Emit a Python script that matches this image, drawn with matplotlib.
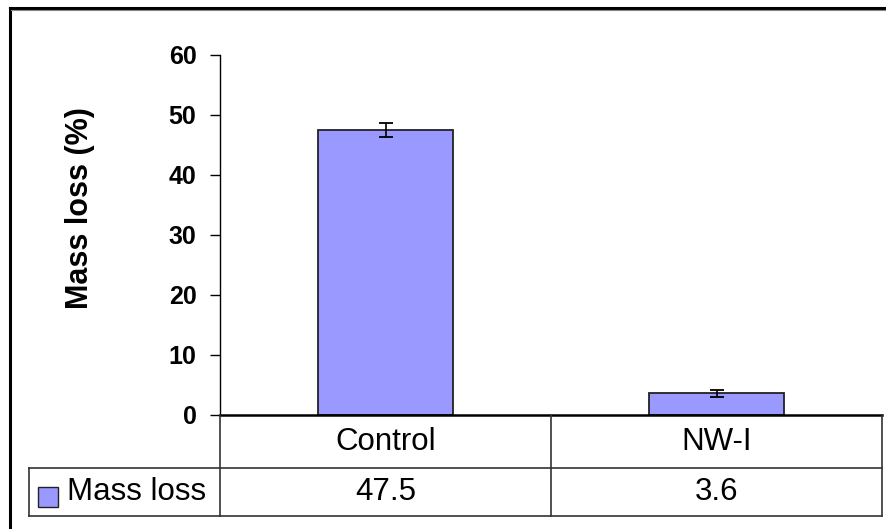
import matplotlib
matplotlib.use("Agg")
import matplotlib.pyplot as plt
from matplotlib.lines import Line2D
from matplotlib.patches import Rectangle

categories = ["Control", "NW-I"]
values = [47.5, 3.6]
errors = [1.2, 0.6]
series_name = "Mass loss"
y_ticks = [0, 10, 20, 30, 40, 50, 60]
y_label = "Mass loss (%)"

W, H = 886, 529
plt.rcParams['font.family'] = ['Liberation Sans', 'DejaVu Sans']
fig = plt.figure(figsize=(W / 100, H / 100), dpi=100)

def fx(px):
    return px / W

def fy(py):
    return 1 - py / H

ax_l, ax_r, ax_t, ax_b = 220, 882, 55, 415
ax = fig.add_axes([fx(ax_l), fy(ax_b), fx(ax_r - ax_l), (ax_b - ax_t) / H])
x = list(range(len(categories)))
bar_color = "#9999FF"
ax.bar(x, values, width=0.41, color=bar_color, edgecolor="#222222", linewidth=1.3, zorder=2)
ax.errorbar(x, values, yerr=errors, fmt="none", ecolor="black", elinewidth=1.2,
            capsize=5, capthick=1.3, zorder=3)
ax.set_xlim(-0.5, len(categories) - 0.5)
ax.set_ylim(0, 60)
ax.set_yticks(y_ticks)
ax.set_yticklabels([str(t) for t in y_ticks], fontsize=18, fontweight="bold")
ax.tick_params(axis="y", length=7, width=1, pad=10, direction="out")
ax.set_xticks([])
for s in ["top", "right"]:
    ax.spines[s].set_visible(False)
ax.spines["left"].set_linewidth(1.0)
ax.spines["bottom"].set_linewidth(1.8)
ax.spines["bottom"].set_zorder(4)
fig.text(fx(80), fy(208), y_label, rotation=90, ha="center", va="center",
         fontsize=22, fontweight="bold")

# data table
row1_top, row1_bot, row2_bot = 415, 468, 516
left_cell = 29
line_c = "#333333"
lw = 1.2

def hline(y, x0, x1, c=line_c, w=lw):
    fig.add_artist(Line2D([fx(x0), fx(x1)], [fy(y), fy(y)], color=c, linewidth=w))

def vline(x0, y0, y1, c=line_c, w=lw):
    fig.add_artist(Line2D([fx(x0), fx(x0)], [fy(y0), fy(y1)], color=c, linewidth=w))

hline(row1_bot, left_cell, ax_r)
hline(row2_bot, left_cell, ax_r)
vline(left_cell, row1_bot, row2_bot)
vline(ax_l, row1_top, row2_bot)
vline(ax_r, row1_top, row2_bot)
n = len(categories)
col_w = (ax_r - ax_l) / n
for i in range(1, n):
    vline(ax_l + i * col_w, row1_top, row2_bot)

tsize = 22.5
for i, (c, v) in enumerate(zip(categories, values)):
    cx = ax_l + (i + 0.5) * col_w
    fig.text(fx(cx), fy((row1_top + row1_bot) / 2), c, ha="center", va="center", fontsize=tsize)
    fig.text(fx(cx), fy((row1_bot + row2_bot) / 2), f"{v}", ha="center", va="center", fontsize=tsize)

# legend key
fig.add_artist(Rectangle((fx(38), fy(507)), fx(20), 20 / H, facecolor=bar_color,
                         edgecolor="#222222", linewidth=1.0))
fig.text(fx(67), fy((row1_bot + row2_bot) / 2), series_name, ha="left", va="center", fontsize=tsize)

# outer chart border
fig.add_artist(Line2D([fx(10), fx(10)], [fy(8), fy(H + 5)], color="black", linewidth=2.2))
fig.add_artist(Line2D([fx(10), fx(W + 5)], [fy(8), fy(8)], color="black", linewidth=2.2))
fig.add_artist(Line2D([fx(11), fx(W + 5)], [fy(9.5), fy(9.5)], color="#888888", linewidth=0.8))

fig.savefig("out.png", dpi=100)
